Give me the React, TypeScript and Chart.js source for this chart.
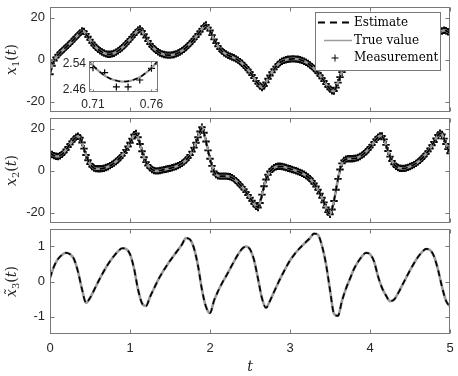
import React, { useEffect, useRef } from "react";
import { Chart, registerables } from "chart.js";
Chart.register(...registerables);

// ---- data ----
const T_STEP = 0.025; // sample step of x1 / x2 (t from 0 to 5)
const T_STEP3 = 0.05; // sample step of x3

const x1True = [
  -7.0, -3.0, -0.5, 1.0, 2.2, 3.2, 4.1, 5.0, 5.9, 6.8,
  7.7, 8.7, 9.7, 10.7, 11.7, 12.7, 13.6, 13.4, 12.2, 10.8,
  9.4, 8.0, 6.8, 5.8, 4.9, 4.2, 3.6, 3.1, 2.7, 2.5,
  2.5, 2.7, 3.0, 3.5, 4.1, 4.8, 5.6, 6.5, 7.5, 8.5,
  9.6, 10.7, 11.8, 12.9, 14.0, 14.5, 13.6, 12.0, 10.4, 8.8,
  7.4, 6.2, 5.2, 4.4, 3.7, 3.1, 2.7, 2.4, 2.2, 2.1,
  2.1, 2.2, 2.4, 2.7, 3.1, 3.6, 4.2, 4.9, 5.7, 6.6,
  7.6, 8.6, 9.7, 10.8, 12.0, 13.3, 14.6, 15.9, 16.5, 15.2,
  13.8, 11.6, 9.6, 7.8, 6.3, 5.0, 4.0, 3.2, 2.6, 2.0,
  1.6, 1.2, 0.8, 0.3, -0.3, -1.0, -1.8, -2.8, -3.8, -4.9,
  -6.1, -7.4, -8.8, -10.2, -11.5, -12.6, -13.3, -12.6, -10.9, -9.2,
  -7.6, -6.1, -4.7, -3.4, -2.3, -1.4, -0.8, -0.4, -0.1, 0.1,
  0.2, 0.3, 0.3, 0.2, 0.1, -0.1, -0.4, -0.8, -1.3, -1.9,
  -2.6, -3.4, -4.3, -5.3, -6.4, -7.6, -8.9, -10.3, -11.7, -13.0,
  -14.1, -14.9, -15.0, -13.4, -11.0, -8.4, -6.0, -3.8, -1.8, 0.0,
  1.6, 3.0, 4.3, 5.5, 6.6, 7.6, 8.5, 9.3, 10.0, 10.6,
  11.1, 11.6, 12.1, 12.6, 13.1, 13.6, 14.0, 14.1, 13.4, 12.0,
  10.4, 8.9, 7.5, 6.3, 5.3, 4.5, 3.9, 3.5, 3.3, 3.2,
  3.3, 3.5, 3.9, 4.4, 5.0, 5.6, 6.3, 7.1, 7.9, 8.8,
  9.6, 10.4, 11.2, 11.9, 12.6, 13.2, 13.6, 13.9, 13.7, 13.2,
  12.5,
];

const x2True = [
  8.2, 7.6, 7.1, 6.8, 6.7, 7.0, 7.7, 8.7, 9.9, 11.2,
  12.5, 13.8, 15.0, 15.9, 16.3, 15.6, 13.3, 10.4, 7.4, 4.9,
  3.1, 1.9, 1.2, 0.9, 0.8, 0.8, 0.9, 1.1, 1.4, 1.8,
  2.3, 2.9, 3.5, 4.3, 5.1, 6.0, 7.1, 8.4, 9.8, 11.4,
  13.2, 15.2, 17.1, 17.6, 15.8, 12.6, 9.2, 6.3, 4.0, 2.4,
  1.3, 0.5, 0.0, -0.2, -0.2, 0.0, 0.2, 0.4, 0.6, 0.8,
  1.0, 1.3, 1.6, 1.9, 2.3, 2.8, 3.4, 4.1, 5.0, 6.1,
  7.4, 9.0, 10.9, 13.2, 15.8, 18.6, 20.6, 18.0, 13.8, 9.6,
  5.6, 2.2, -0.5, -1.9, -2.5, -2.7, -2.7, -2.7, -2.7, -2.8,
  -3.0, -3.4, -4.0, -4.8, -5.8, -6.8, -7.8, -9.0, -10.3, -11.7,
  -13.0, -14.4, -15.8, -17.0, -17.6, -15.5, -11.5, -7.5, -4.3, -2.0,
  -0.5, 0.6, 1.3, 1.8, 2.0, 2.0, 1.9, 1.7, 1.4, 1.1,
  0.8, 0.5, 0.2, -0.1, -0.5, -0.9, -1.3, -1.8, -2.4, -3.1,
  -3.9, -5.0, -6.2, -7.6, -9.2, -11.0, -13.0, -15.2, -17.6, -19.8,
  -20.8, -18.6, -14.5, -9.2, -4.0, 0.5, 3.4, 4.8, 5.4, 5.6,
  5.6, 5.6, 5.7, 5.9, 6.2, 6.7, 7.3, 8.0, 8.9, 9.9,
  11.0, 12.2, 13.5, 14.8, 15.9, 16.5, 16.4, 14.8, 12.2, 9.3,
  6.6, 4.5, 3.0, 2.0, 1.4, 1.1, 1.0, 1.0, 1.2, 1.5,
  1.9, 2.3, 2.8, 3.4, 4.1, 4.9, 5.8, 6.8, 7.9, 9.1,
  10.5, 12.0, 13.6, 15.3, 16.9, 17.8, 17.2, 15.2, 12.6, 10.2,
  8.2,
];

const x3True = [
  0.10, 0.43, 0.64, 0.76, 0.82, 0.78, 0.64, 0.28, -0.22, -0.61,
  -0.47, -0.25, -0.02, 0.20, 0.40, 0.58, 0.73, 0.86, 0.95, 0.93,
  0.78, 0.38, -0.22, -0.62, -0.70, -0.44, -0.20, 0.04, 0.24, 0.42,
  0.59, 0.75, 0.90, 1.06, 1.24, 1.20, 0.95, 0.45, -0.24, -0.72,
  -0.90, -0.55, -0.28, -0.05, 0.15, 0.36, 0.57, 0.77, 0.93, 1.00,
  0.92, 0.62, 0.08, -0.48, -0.75, -0.55, -0.30, -0.05, 0.18, 0.40,
  0.60, 0.76, 0.90, 1.02, 1.13, 1.24, 1.37, 1.33, 1.02, 0.50,
  -0.24, -0.92, -0.98, -0.55, -0.20, 0.08, 0.36, 0.56, 0.72, 0.82,
  0.78, 0.58, 0.15, -0.18, -0.40, -0.56, -0.52, -0.34, -0.12, 0.10,
  0.32, 0.52, 0.70, 0.84, 0.93, 0.90, 0.72, 0.34, -0.15, -0.55,
  -0.72,
];

// inset (zoom of x1 around its first valley)
const insetT = [0.705, 0.71, 0.715, 0.72, 0.725, 0.73, 0.735, 0.74, 0.745, 0.75, 0.755, 0.76, 0.765, 0.77];
const insetTrue = [2.557, 2.536, 2.518, 2.504, 2.494, 2.488, 2.485, 2.486, 2.491, 2.499, 2.512, 2.528, 2.548, 2.571];
const insetMeasT = [0.71, 0.72, 0.73, 0.74, 0.75, 0.76];
const insetMeas = [2.529, 2.513, 2.468, 2.468, 2.49, 2.527];

const xTicks = [0, 1, 2, 3, 4, 5];
const yTicks12 = [-20, 0, 20];
const yTicks3 = [-1, 0, 1];
const insetXTicks = [0.71, 0.76];
const insetYTicks = [2.46, 2.54];
const legendLabels = ["Estimate", "True value", "Measurement"];
const xLabel = "t";

// ---- styles ----
const GRAY = "#9c9c9c";
const FRAME = "#787878";
const TEXT = "#262626";
const SANS = '"Liberation Sans", Arial, Helvetica, sans-serif';
const SERIF = '"DejaVu Serif", "Liberation Serif", serif';

const pts = (vals: number[], step: number) => vals.map((v, i) => ({ x: Math.round(i * step * 10000) / 10000, y: v }));
const pair = (ts: number[], vs: number[]) => vs.map((v, i) => ({ x: ts[i], y: v }));

function lineSets(make: () => any[], withMeas: boolean, monotone: boolean, dash: number[]) {
  const ds: any[] = [
    {
      label: "Estimate", data: make(), borderColor: "#000", borderWidth: 1.7, borderDash: dash,
      pointRadius: 0, order: 0, tension: 0, cubicInterpolationMode: monotone ? "monotone" : "default",
    },
    {
      label: "True value", data: make(), borderColor: GRAY, borderWidth: 2.6,
      pointRadius: 0, order: 1, tension: 0, cubicInterpolationMode: monotone ? "monotone" : "default",
    },
  ];
  if (withMeas) {
    ds.push({
      label: "Measurement", data: make(), showLine: false, pointStyle: "cross", pointRadius: 3.7,
      borderColor: "#000", pointBorderColor: "#000", pointBorderWidth: 1.9, order: 2,
    });
  }
  return ds;
}

function axis(opts: {
  min: number; max: number; ticks: number[]; show: boolean; size: number; horizontal: boolean;
  fontSize: number; padding: number; fmt: (v: number) => string;
}) {
  return {
    type: "linear",
    min: opts.min,
    max: opts.max,
    position: opts.horizontal ? "bottom" : "left",
    grid: { display: false, drawTicks: false },
    border: { display: false },
    ticks: {
      display: opts.show, color: TEXT, padding: opts.padding, autoSkip: false, maxRotation: 0, minRotation: 0,
      font: { family: SANS, size: opts.fontSize },
      callback: (v: any) => opts.fmt(Number(v)),
    },
    afterBuildTicks: (s: any) => { s.ticks = opts.ticks.map((v) => ({ value: v })); },
    afterFit: (s: any) => {
      if (opts.horizontal) s.height = opts.size; else s.width = opts.size;
      s.paddingTop = 0; s.paddingBottom = 0; s.paddingLeft = 0; s.paddingRight = 0;
    },
  };
}

function framePlugin(xt: number[], yt: number[], len: number, fillWhite = false) {
  return {
    id: "frame",
    beforeDatasetsDraw(chart: any) {
      if (!fillWhite) return;
      const a = chart.chartArea;
      chart.ctx.save();
      chart.ctx.fillStyle = "#fff";
      chart.ctx.fillRect(a.left, a.top, a.right - a.left, a.bottom - a.top);
      chart.ctx.restore();
    },
    afterDatasetsDraw(chart: any) {
      const { ctx, chartArea: a, scales } = chart;
      const L = Math.round(a.left) + 0.5, R = Math.round(a.right) - 0.5;
      const T = Math.round(a.top) + 0.5, B = Math.round(a.bottom) - 0.5;
      ctx.save();
      ctx.strokeStyle = FRAME;
      ctx.lineWidth = 1;
      ctx.beginPath();
      for (const v of xt) {
        const x = Math.round(scales.x.getPixelForValue(v)) + 0.5;
        ctx.moveTo(x, B); ctx.lineTo(x, B - len);
        ctx.moveTo(x, T); ctx.lineTo(x, T + len);
      }
      for (const v of yt) {
        const y = Math.round(scales.y.getPixelForValue(v)) + 0.5;
        ctx.moveTo(L, y); ctx.lineTo(L + len, y);
        ctx.moveTo(R, y); ctx.lineTo(R - len, y);
      }
      ctx.stroke();
      ctx.strokeRect(L, T, R - L, B - T);
      ctx.restore();
    },
  };
}

function yLabelPlugin(sub: string, tilde: boolean) {
  return {
    id: "ylabel",
    afterDraw(chart: any) {
      const { ctx, chartArea } = chart;
      const cy = (chartArea.top + chartArea.bottom) / 2;
      const parts = [
        { s: tilde ? "x\u0303" : "x", f: `italic 14px ${SERIF}`, dy: 0 },
        { s: sub, f: `10px ${SERIF}`, dy: 3 },
        { s: "(", f: `14px ${SERIF}`, dy: 0 },
        { s: "t", f: `italic 14px ${SERIF}`, dy: 0 },
        { s: ")", f: `14px ${SERIF}`, dy: 0 },
      ];
      ctx.save();
      let w = 0;
      for (const p of parts) { ctx.font = p.f; w += ctx.measureText(p.s).width; }
      ctx.translate(16, cy);
      ctx.rotate(-Math.PI / 2);
      ctx.fillStyle = TEXT;
      ctx.textBaseline = "alphabetic";
      ctx.textAlign = "left";
      let x = -w / 2;
      for (const p of parts) {
        ctx.font = p.f;
        ctx.fillText(p.s, x, p.dy);
        x += ctx.measureText(p.s).width;
      }
      ctx.restore();
    },
  };
}

const legendPlugin = {
  id: "legendBox",
  afterDraw(chart: any) {
    const ctx = chart.ctx;
    ctx.save();
    ctx.fillStyle = "#fff";
    ctx.fillRect(315.5, 12.5, 125, 58);
    ctx.strokeStyle = FRAME;
    ctx.lineWidth = 1;
    ctx.strokeRect(315.5, 12.5, 125, 58);
    const rows = [22.5, 40.5, 58];
    // estimate sample
    ctx.strokeStyle = "#000";
    ctx.lineWidth = 2;
    ctx.setLineDash([7, 5]);
    ctx.beginPath(); ctx.moveTo(318, rows[0]); ctx.lineTo(352, rows[0]); ctx.stroke();
    ctx.setLineDash([]);
    // true value sample
    ctx.strokeStyle = GRAY;
    ctx.lineWidth = 1.5;
    ctx.beginPath(); ctx.moveTo(324, rows[1]); ctx.lineTo(352, rows[1]); ctx.stroke();
    // measurement sample
    ctx.strokeStyle = "#000";
    ctx.lineWidth = 1;
    ctx.beginPath();
    ctx.moveTo(331.5, rows[2]); ctx.lineTo(338.5, rows[2]);
    ctx.moveTo(335, rows[2] - 3.5); ctx.lineTo(335, rows[2] + 3.5);
    ctx.stroke();
    ctx.fillStyle = "#000";
    ctx.font = `12px ${SERIF}`;
    ctx.textBaseline = "middle";
    ctx.textAlign = "left";
    legendLabels.forEach((s, i) => ctx.fillText(s, 354, rows[i]));
    ctx.restore();
  },
};

const xLabelPlugin = {
  id: "xlabel",
  afterDraw(chart: any) {
    const ctx = chart.ctx;
    ctx.save();
    ctx.fillStyle = TEXT;
    ctx.font = `italic 14px ${SERIF}`;
    ctx.textAlign = "center";
    ctx.textBaseline = "alphabetic";
    ctx.fillText(xLabel, (chart.chartArea.left + chart.chartArea.right) / 2, 147.5);
    ctx.restore();
  },
};

const fmtInt = (v: number) => String(v);
const fmt2 = (v: number) => v.toFixed(2);

function panelConfig(p: {
  datasets: any[]; yMin: number; yMax: number; yTicks: number[]; showX: boolean; xAxisH: number;
  padTop: number; padBottom: number; plugins: any[];
}) {
  return {
    type: "line",
    data: { datasets: p.datasets },
    options: {
      responsive: false,
      animation: false,
      devicePixelRatio: 1,
      events: [],
      layout: { padding: { left: 0, right: 8, top: p.padTop, bottom: p.padBottom } },
      plugins: { legend: { display: false }, tooltip: { enabled: false } },
      scales: {
        x: axis({ min: 0, max: 5, ticks: xTicks, show: p.showX, size: p.xAxisH, horizontal: true, fontSize: 13, padding: 7, fmt: fmtInt }),
        y: axis({ min: p.yMin, max: p.yMax, ticks: p.yTicks, show: true, size: 50, horizontal: false, fontSize: 13, padding: 5, fmt: fmtInt }),
      },
    },
    plugins: p.plugins,
  } as any;
}

export default function App() {
  const c1 = useRef<HTMLCanvasElement>(null);
  const c2 = useRef<HTMLCanvasElement>(null);
  const c3 = useRef<HTMLCanvasElement>(null);
  const c4 = useRef<HTMLCanvasElement>(null);

  useEffect(() => {
    const charts: Chart[] = [];
    charts.push(new Chart(c1.current!, panelConfig({
      datasets: lineSets(() => pts(x1True, T_STEP), true, false, [6, 4]),
      yMin: -25, yMax: 25, yTicks: yTicks12, showX: false, xAxisH: 0, padTop: 7, padBottom: 6,
      plugins: [framePlugin(xTicks, yTicks12, 4), yLabelPlugin("1", false), legendPlugin],
    })));
    charts.push(new Chart(c2.current!, panelConfig({
      datasets: lineSets(() => pts(x2True, T_STEP), true, false, [6, 4]),
      yMin: -25, yMax: 25, yTicks: yTicks12, showX: false, xAxisH: 0, padTop: 6, padBottom: 6,
      plugins: [framePlugin(xTicks, yTicks12, 4), yLabelPlugin("2", false)],
    })));
    charts.push(new Chart(c3.current!, panelConfig({
      datasets: lineSets(() => pts(x3True, T_STEP3), false, true, [6, 4]),
      yMin: -1.5, yMax: 1.5, yTicks: yTicks3, showX: true, xAxisH: 42, padTop: 6, padBottom: 0,
      plugins: [framePlugin(xTicks, yTicks3, 4), yLabelPlugin("3", true), xLabelPlugin],
    })));
    // inset
    const insetSets = [
      { label: "Estimate", data: pair(insetT, insetTrue), borderColor: "#000", borderWidth: 1.5, borderDash: [5, 4], pointRadius: 0, order: 0, cubicInterpolationMode: "monotone" },
      { label: "True value", data: pair(insetT, insetTrue), borderColor: GRAY, borderWidth: 2.2, pointRadius: 0, order: 1, cubicInterpolationMode: "monotone" },
      { label: "Measurement", data: pair(insetMeasT, insetMeas), showLine: false, pointStyle: "cross", pointRadius: 3.5, borderColor: "#000", pointBorderColor: "#000", pointBorderWidth: 1.2, order: 2 },
    ];
    charts.push(new Chart(c4.current!, {
      type: "line",
      data: { datasets: insetSets },
      options: {
        responsive: false,
        animation: false,
        devicePixelRatio: 1,
        events: [],
        layout: { padding: { left: 0, right: 7, top: 6, bottom: 0 } },
        plugins: { legend: { display: false }, tooltip: { enabled: false } },
        scales: {
          x: axis({ min: 0.7066, max: 0.7656, ticks: insetXTicks, show: true, size: 23, horizontal: true, fontSize: 12, padding: 5, fmt: fmt2 }),
          y: axis({ min: 2.452, max: 2.55, ticks: insetYTicks, show: true, size: 49, horizontal: false, fontSize: 12, padding: 3, fmt: fmt2 }),
        },
      },
      plugins: [framePlugin(insetXTicks, insetYTicks, 2, true)],
    } as any));
    return () => charts.forEach((c) => c.destroy());
  }, []);

  const abs = (top: number, left: number, w: number, h: number): React.CSSProperties => ({
    position: "absolute", top, left, width: w, height: h,
  });

  return (
    <div style={{ position: "absolute", left: 0, top: 0, width: 458, height: 376, background: "#fff", overflow: "hidden" }}>
      <canvas ref={c1} width={458} height={118} style={abs(0, 0, 458, 118)} />
      <canvas ref={c2} width={458} height={117} style={abs(112, 0, 458, 117)} />
      <canvas ref={c3} width={458} height={153} style={abs(223, 0, 458, 153)} />
      <canvas ref={c4} width={125} height={60} style={abs(55, 40, 125, 60)} />
    </div>
  );
}
